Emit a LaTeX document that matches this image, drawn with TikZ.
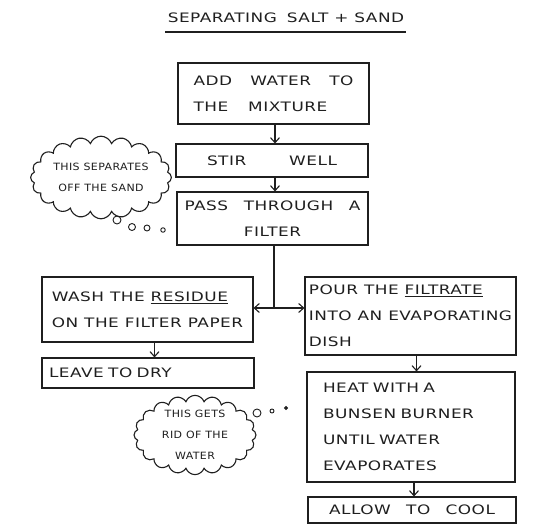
\documentclass[tikz,border=0pt]{standalone}
\usepackage{fontspec}
\usetikzlibrary{arrows.meta,shapes.symbols,calc}
\newfontfamily\hand[FakeStretch=1.3,LetterSpace=4]{DejaVu Sans}
\newfontfamily\handc[FakeStretch=1.1,LetterSpace=4]{DejaVu Sans}
\definecolor{ink}{gray}{0.12}
\tikzset{
  pen/.style={draw=ink,line width=1.1pt},
  stepbox/.style={pen,rectangle,align=left,inner sep=3pt,text=ink,
    font={\hand\fontsize{13}{26}\selectfont}},
  thought/.style={pen,cloud,cloud puffs=20,cloud puff arc=140,cloud ignores aspect,
    align=center,inner sep=0pt,text=ink,font={\handc\fontsize{10}{21}\selectfont}},
  bubble/.style={pen,circle,inner sep=0pt,line width=0.9pt},
  arr/.style={pen,-{Straight Barb[length=5pt,width=9pt]}},
  lbl/.style={text=ink,font={\hand\fontsize{13}{26}\selectfont}}
}
\begin{document}
\begin{tikzpicture}[x=1pt,y=-1pt]
\useasboundingbox (0,0) rectangle (536,526);
\fill[white] (0,0) rectangle (536,526);
% title
\node[lbl,inner sep=0pt] (title) at (286,18) {SEPARATING\hspace{10pt}SALT + SAND};
\draw[pen] (165,32) -- (406,32);
% boxes
\node[stepbox,minimum width=191pt,minimum height=61pt,text width=160pt] (b1) at (273.5,93.5)
  {ADD\hfill WATER\hfill TO\\THE\hspace{20pt}MIXTURE};
\node[stepbox,minimum width=192pt,minimum height=33pt,text width=130pt] (b2) at (272,160.5)
  {STIR\hfill WELL};
\node[stepbox,minimum width=191pt,minimum height=53pt,text width=176pt,align=center] (b3) at (272.5,218.5)
  {PASS\hfill THROUGH\hfill A\\FILTER};
\node[stepbox,minimum width=211pt,minimum height=65pt] (b4) at (147.5,309.5)
  {WASH THE \underline{RESIDUE}\\ON THE FILTER PAPER};
\node[stepbox,minimum width=212pt,minimum height=30pt,text width=198pt] (b5) at (148,373)
  {LEAVE TO DRY};
\node[stepbox,minimum width=211pt,minimum height=78pt] (b6) at (410.5,316)
  {POUR THE \underline{FILTRATE}\\INTO AN EVAPORATING\\DISH};
\node[stepbox,minimum width=208pt,minimum height=110pt,text width=176pt] (b7) at (411,427)
  {HEAT WITH A\\BUNSEN BURNER\\UNTIL WATER\\EVAPORATES};
\node[stepbox,minimum width=208pt,minimum height=26pt,text width=166pt] (b8) at (412,510)
  {ALLOW\hfill TO\hfill COOL};
% connectors
\draw[arr] ([xshift=1.5pt]b1.south) -- ([xshift=1.5pt]b1.south |- b2.north);
\draw[arr] ([xshift=3pt]b2.south) -- ([xshift=3pt]b2.south |- b3.north);
\coordinate (j) at (274,308);
\draw[pen] ([xshift=1.5pt]b3.south) -- (j);
\draw[arr] (j) -- (b4.east |- j);
\draw[arr] (j) -- (b6.west |- j);
\draw[arr] ([xshift=7pt]b4.south) -- ([xshift=7pt]b4.south |- b5.north);
\draw[arr] ([xshift=6pt]b6.south) -- ([xshift=6pt]b6.south |- b7.north);
\draw[arr] ([xshift=3pt]b7.south) -- ([xshift=3pt]b7.south |- b8.north);
% thought clouds
\node[thought,inner xsep=0pt,inner ysep=10pt] (c1) at (101,177.5)
  {THIS SEPARATES\\OFF THE SAND};
\node[bubble,minimum size=8pt] (c1a) at (117,220) {};
\node[bubble,minimum size=7pt] (c1b) at (132,227) {};
\node[bubble,minimum size=6pt] (c1c) at (147,228) {};
\node[bubble,minimum size=4.5pt] (c1d) at (163,230) {};
\node[thought,minimum width=122pt,minimum height=78pt] (c2) at (195,435)
  {THIS GETS\\RID OF THE\\WATER};
\node[bubble,minimum size=8pt] (c2a) at (257,413) {};
\node[bubble,minimum size=4pt] (c2b) at (272,411) {};
\node[bubble,minimum size=3pt,fill=ink] (c2c) at (286,408) {};
\end{tikzpicture}
\end{document}
